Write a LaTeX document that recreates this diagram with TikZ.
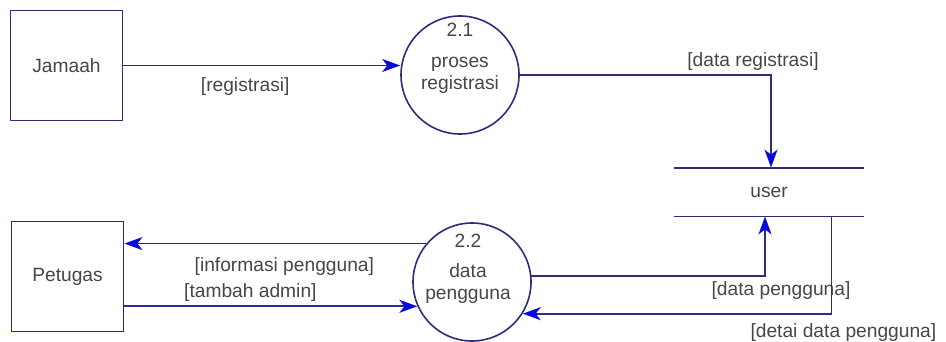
\documentclass[tikz,border=0pt]{standalone}
\usepackage{fontspec}
\setmainfont{Liberation Sans}
\usetikzlibrary{arrows.meta}
\definecolor{navy}{RGB}{45,45,125}
\definecolor{tipblue}{RGB}{10,10,220}
\definecolor{txt}{RGB}{70,70,70}

\begin{document}
\begin{tikzpicture}[x=0.5pt,y=-0.5pt,font=\fontsize{9.6}{11}\selectfont,text=txt,
    ent/.style={draw=navy,line width=0.9pt,minimum width=56pt,minimum height=55pt},
    proc/.style={circle,draw=navy,line width=0.8pt,minimum size=59pt},
    flow/.style={-{Stealth[length=9pt,width=6.5pt,inset=2.5pt,color=tipblue]},draw=navy,line width=0.9pt}]
    \useasboundingbox (0,0) rectangle (946,342);
    %entities
    \node[ent] (jamaah) at (66.5,65.5) {Jamaah};
    \node[ent] (petugas) at (67.5,276.5) {Petugas};
    %processes
    \node[proc] (proses) at (460,75) {};
    \node at ([yshift=22.5pt]proses.center) {2.1};
    \node[align=center] at (proses.center) {proses\\registrasi};
    \node[proc] (datapeng) at (472,282) {};
    \node at ([xshift=-2pt,yshift=20.5pt]datapeng.center) {2.2};
    \node[align=center] at ([xshift=-2pt,yshift=-1pt]datapeng.center) {data\\pengguna};
    %store
    \node[minimum width=95pt,minimum height=24pt] (user) at (769,192) {user};
    \draw[navy,line width=0.9pt] (user.north west) -- (user.north east) (user.south west) -- (user.south east);
    %flows
    \draw[flow] (jamaah.east) -- node[pos=0.44,yshift=-10.5pt]{[registrasi]} (proses.west |- jamaah.east);
    \draw[flow] (proses.east) -| node[pos=0.5,xshift=-9pt,yshift=6.5pt]{[data registrasi]} ([xshift=1pt]user.north);
    \draw[flow] (datapeng.140) -- node[pos=0.47,yshift=-11.5pt]{[informasi pengguna]} (datapeng.140 -| petugas.east);
    \draw[flow] (petugas.east |- datapeng.204) -- node[pos=0.43,yshift=7pt]{[tambah admin]} (datapeng.204);
    \draw[flow] (datapeng.6) -| node[pos=0.5,xshift=8pt,yshift=-7.5pt]{[data pengguna]} ([xshift=-2pt]user.south);
    \draw[flow] ([xshift=-16.5pt]user.south east) |- node[pos=0.5,xshift=6pt,yshift=-9.5pt]{[detai data pengguna]} (datapeng.-32);
\end{tikzpicture}
\end{document}
